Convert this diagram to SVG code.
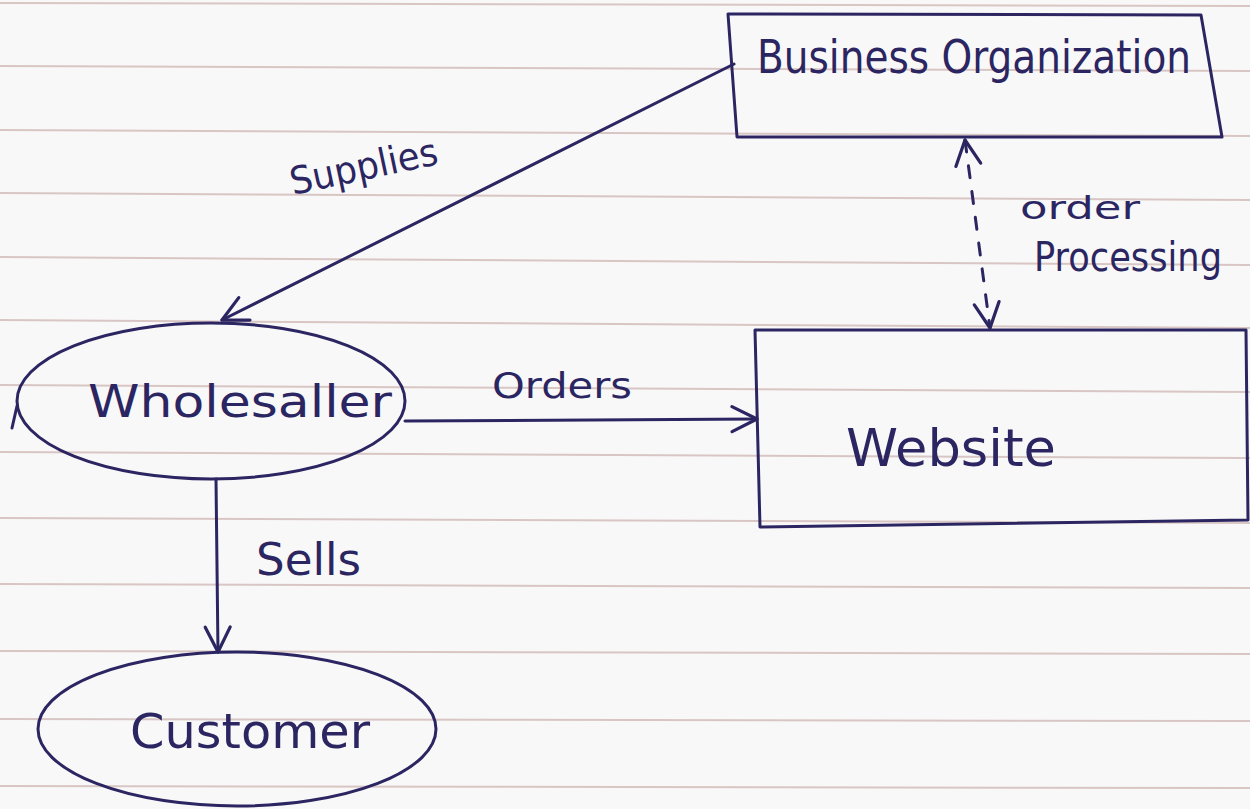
<svg xmlns="http://www.w3.org/2000/svg" width="1250" height="809" viewBox="0 0 1250 809">
<style>
.paper{fill:#f9f8f8}
.rule{stroke:#d8c6c4;stroke-width:2}
.ink{fill:none;stroke:#2b2662;stroke-width:3;stroke-linecap:round;stroke-linejoin:round}
.lbl{font-family:"DejaVu Sans","Liberation Sans",sans-serif;fill:#2b2662}
</style>
<defs>
<marker id="ahs" viewBox="0 0 12 12" refX="11" refY="6" markerWidth="30" markerHeight="30" markerUnits="userSpaceOnUse" orient="auto-start-reverse">
<path d="M1,1 L11,6 L1,11" fill="none" stroke="#2b2662" stroke-width="1.3" stroke-linecap="round" stroke-linejoin="round"/>
</marker>
</defs>
<rect class="paper" x="0" y="0" width="1250" height="809"/>
<g id="paper-rules">
<line class="rule" x1="0" y1="3" x2="1250" y2="6"/>
<line class="rule" x1="0" y1="66" x2="1250" y2="71"/>
<line class="rule" x1="0" y1="130" x2="1250" y2="136"/>
<line class="rule" x1="0" y1="193" x2="1250" y2="200"/>
<line class="rule" x1="0" y1="257" x2="1250" y2="265"/>
<line class="rule" x1="0" y1="320" x2="1250" y2="328"/>
<line class="rule" x1="0" y1="385" x2="1250" y2="392"/>
<line class="rule" x1="0" y1="452" x2="1250" y2="458"/>
<line class="rule" x1="0" y1="518" x2="1250" y2="523"/>
<line class="rule" x1="0" y1="584" x2="1250" y2="588"/>
<line class="rule" x1="0" y1="651" x2="1250" y2="654"/>
<line class="rule" x1="0" y1="719" x2="1250" y2="721"/>
<line class="rule" x1="0" y1="786" x2="1250" y2="788"/>
</g>
<g id="connectors">
<g id="edge-supplies">
<path class="ink" stroke-width="2" d="M734,64 L222,320" marker-end="url(#ahs)"/>
<text class="lbl" font-size="38" transform="translate(293,195) rotate(-12)" textLength="150" lengthAdjust="spacingAndGlyphs">Supplies</text>
</g>
<g id="edge-orders">
<path class="ink" stroke-width="2.5" d="M405,421 L757,419" marker-end="url(#ahs)"/>
<text class="lbl" font-size="36" x="492" y="398" textLength="140" lengthAdjust="spacingAndGlyphs">Orders</text>
</g>
<g id="edge-sells">
<path class="ink" stroke-width="2.5" d="M216,479 L218,652" marker-end="url(#ahs)"/>
<text class="lbl" font-size="44" x="256" y="575" textLength="105" lengthAdjust="spacingAndGlyphs">Sells</text>
</g>
<g id="edge-order-processing">
<path class="ink" stroke-width="2.5" stroke-dasharray="12,14" d="M965,140 L990,328" marker-start="url(#ahs)" marker-end="url(#ahs)"/>
<text class="lbl" font-size="32" x="1020" y="219" textLength="120" lengthAdjust="spacingAndGlyphs">order</text>
<text class="lbl" font-size="40" x="1034" y="271" textLength="188" lengthAdjust="spacingAndGlyphs">Processing</text>
</g>
</g>
<g id="node-business-organization">
<path class="ink" d="M728,14 L1201,15 L1222,137 L737,137 Z"/>
<text class="lbl" font-size="46" x="757" y="73" textLength="434" lengthAdjust="spacingAndGlyphs">Business Organization</text>
</g>
<g id="node-website">
<path class="ink" d="M755,330 L1246,330 L1248,520 L760,527 Z"/>
<text class="lbl" font-size="52" x="846" y="466" textLength="210" lengthAdjust="spacingAndGlyphs">Website</text>
</g>
<g id="node-wholesaller">
<ellipse class="ink" cx="211" cy="401" rx="194" ry="78"/>
<path class="ink" d="M17,406 L12,428"/>
<text class="lbl" font-size="44" x="88" y="417" textLength="304" lengthAdjust="spacingAndGlyphs">Wholesaller</text>
</g>
<g id="node-customer">
<ellipse class="ink" cx="237" cy="729" rx="199" ry="77"/>
<text class="lbl" font-size="48" x="130" y="748" textLength="240" lengthAdjust="spacingAndGlyphs">Customer</text>
</g>
</svg>
